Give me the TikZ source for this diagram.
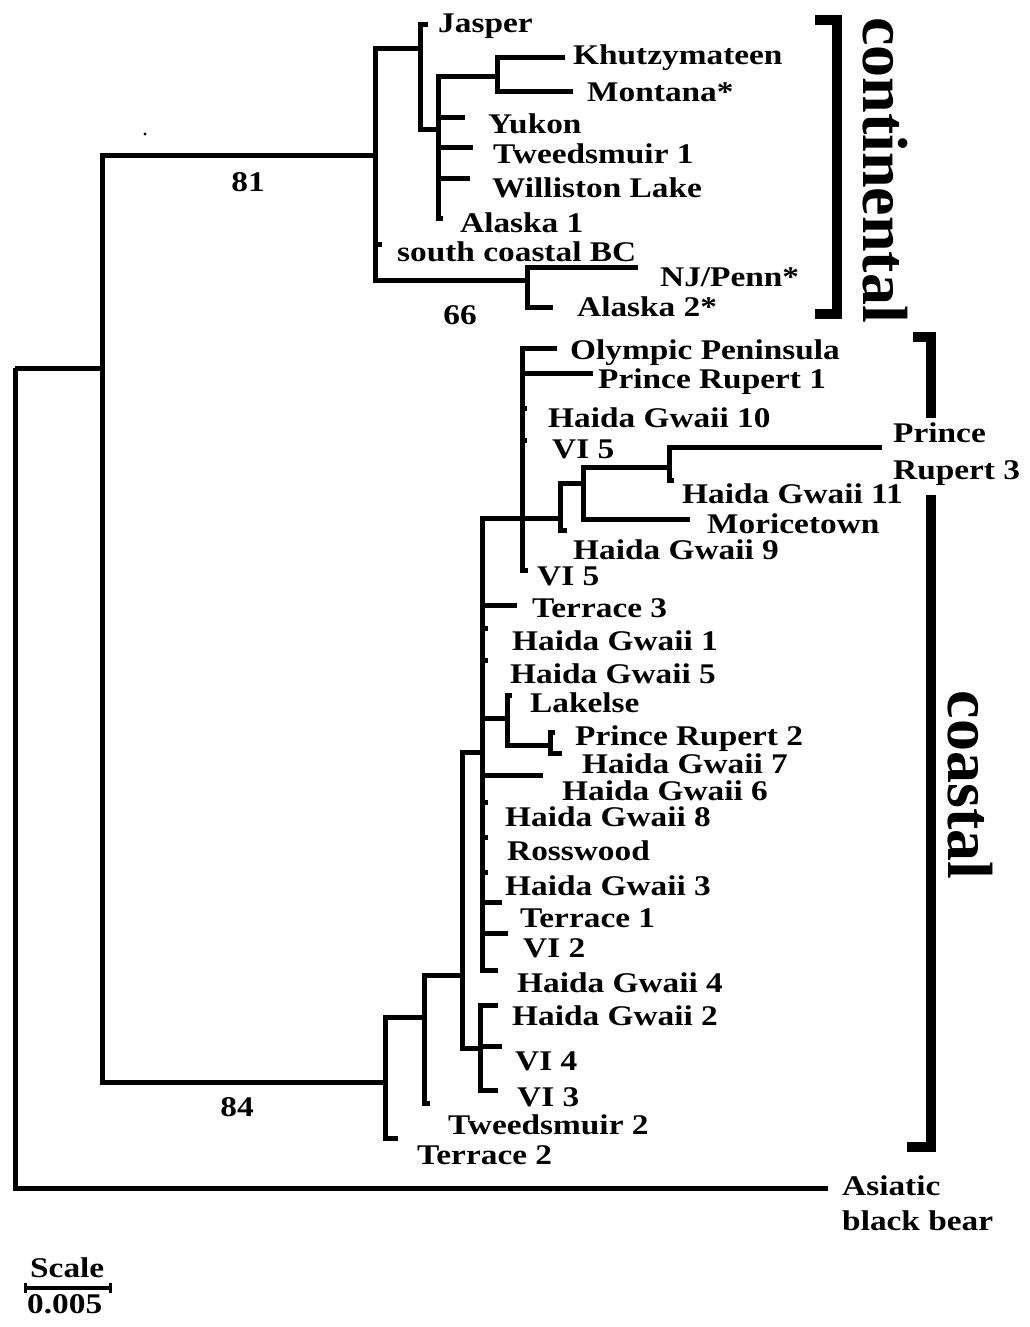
\documentclass[tikz,border=0pt]{standalone}
\usepackage{fontspec}
\setmainfont{Liberation Serif}
\newfontfamily\lblfont[FakeStretch=1.17]{Liberation Serif}
\newfontfamily\grpfont{Liberation Serif}
\begin{document}
\begin{tikzpicture}[x=1pt,y=-1pt,
  br/.style={line width=5pt, line join=miter},
  bracket/.style={line width=10pt, line join=miter},
  lbl/.style={font=\lblfont\bfseries\fontsize{28.5}{31}\selectfont, anchor=base west, inner sep=0pt},
  num/.style={font=\lblfont\bfseries\fontsize{28.5}{31}\selectfont, anchor=base, inner sep=0pt},
  grp/.style={font=\grpfont\bfseries\fontsize{64}{70}\selectfont, rotate=-90, inner sep=0pt}]
\useasboundingbox (0,0) rectangle (1030,1327);
\fill[white] (0,0) rectangle (1030,1327);

% ---------- internal nodes (x of node, y where it joins its parent)
\coordinate (R)  at (15,368);
\coordinate (A)  at (102,368);
\coordinate (C)  at (375,155);
\coordinate (J)  at (420,49);
\coordinate (Y)  at (438,130);
\coordinate (K)  at (497,77);
\coordinate (N)  at (527,280);
\coordinate (CO) at (385,1082);
\coordinate (T2) at (424,1017);
\coordinate (M)  at (462,975);
\coordinate (V)  at (480,1048);
\coordinate (B)  at (482,752);
\coordinate (O)  at (522,518);
\coordinate (H)  at (560,518);
\coordinate (Mo) at (583,483);
\coordinate (PR) at (669,467);
\coordinate (L)  at (507,718);
\coordinate (P)  at (550,745);

% ---------- tips
\coordinate (tAsia) at (828,1188);
\coordinate (tJas)  at (428,25);
\coordinate (tKhu)  at (565,58);
\coordinate (tMon)  at (573,92);
\coordinate (tYuk)  at (465,118);
\coordinate (tTwA)  at (473,147);
\coordinate (tWil)  at (470,178);
\coordinate (tAlA)  at (443,218);
\coordinate (tSC)   at (382,244);
\coordinate (tNJ)   at (638,267);
\coordinate (tAlB)  at (553,307);
\coordinate (tTerB) at (398,1138);
\coordinate (tTwB)  at (430,1103);
\coordinate (tHGb)  at (498,1005);
\coordinate (tVId)  at (502,1046);
\coordinate (tVIc)  at (498,1090);
\coordinate (tTerC) at (517,605);
\coordinate (tHGa)  at (488,628);
\coordinate (tHGe)  at (488,660);
\coordinate (tHGf)  at (543,775);
\coordinate (tHGh)  at (488,802);
\coordinate (tRos)  at (488,837);
\coordinate (tHGc)  at (488,872);
\coordinate (tTerA) at (502,902);
\coordinate (tVIb)  at (508,933);
\coordinate (tHGd)  at (498,970);
\coordinate (tOly)  at (557,348);
\coordinate (tPRa)  at (593,373);
\coordinate (tHGj)  at (527,408);
\coordinate (tVIe)  at (527,440);
\coordinate (tVIf)  at (528,570);
\coordinate (tHGi)  at (567,530);
\coordinate (tMor)  at (690,519);
\coordinate (tPRc)  at (882,447);
\coordinate (tHGk)  at (674,480);
\coordinate (tLak)  at (512,695);
\coordinate (tPRb)  at (555,732);
\coordinate (tHGg)  at (562,753);

% ---------- branches
\foreach \p/\c in {R/A, R/tAsia, A/C, A/CO,
  C/J, C/tSC, C/N, J/tJas, J/Y, Y/K, Y/tYuk, Y/tTwA, Y/tWil, Y/tAlA,
  K/tKhu, K/tMon, N/tNJ, N/tAlB,
  CO/T2, CO/tTerB, T2/M, T2/tTwB, M/B, M/V, V/tHGb, V/tVId, V/tVIc,
  B/O, B/tTerC, B/tHGa, B/tHGe, B/L, B/tHGf, B/tHGh, B/tRos, B/tHGc, B/tTerA, B/tVIb, B/tHGd,
  O/tOly, O/tPRa, O/tHGj, O/tVIe, O/H, O/tVIf,
  H/Mo, H/tHGi, Mo/PR, Mo/tMor, PR/tPRc, PR/tHGk,
  L/tLak, L/P, P/tPRb, P/tHGg}
  \draw[br] (\p) |- (\c);

% ---------- labels
\node[lbl] (lJas) at (438,33) {Jasper};
\node[lbl] (lKhu) at (573,65) {Khutzymateen};
\node[lbl] (lMon) at (587,102) {Montana*};
\node[lbl] (lYuk) at (488,133) {Yukon};
\node[lbl] (lTwA) at (493,163) {Tweedsmuir 1};
\node[lbl] (lWil) at (492,197) {Williston Lake};
\node[lbl] (lAlA) at (460,232) {Alaska 1};
\node[lbl] (lSC)  at (397,261) {south coastal BC};
\node[lbl] (lNJ)  at (660,286) {NJ/Penn*};
\node[lbl] (lAlB) at (577,316) {Alaska 2*};
\node[num] (n81)  at (248,191) {81};
\node[num] (n66)  at (460,324) {66};
\node[num] (n84)  at (237,1116) {84};

\node[lbl] (lOly) at (570,359) {Olympic Peninsula};
\node[lbl] (lPRa) at (598,388) {Prince Rupert 1};
\node[lbl] (lHGj) at (548,427) {Haida Gwaii 10};
\node[lbl] (lVIe) at (552,458) {VI 5};
\node[lbl] (lPRc) at (893,442) {Prince};
\node[lbl] (lPRd) at (893,479) {Rupert 3};
\node[lbl] (lHGk) at (682,503) {Haida Gwaii 11};
\node[lbl] (lMor) at (707,533) {Moricetown};
\node[lbl] (lHGi) at (573,559) {Haida Gwaii 9};
\node[lbl] (lVIf) at (537,585) {VI 5};
\node[lbl] (lTerC) at (532,617) {Terrace 3};
\node[lbl] (lHGa) at (512,650) {Haida Gwaii 1};
\node[lbl] (lHGe) at (510,683) {Haida Gwaii 5};
\node[lbl] (lLak) at (530,712) {Lakelse};
\node[lbl] (lPRb) at (575,745) {Prince Rupert 2};
\node[lbl] (lHGg) at (582,773) {Haida Gwaii 7};
\node[lbl] (lHGf) at (562,800) {Haida Gwaii 6};
\node[lbl] (lHGh) at (505,826) {Haida Gwaii 8};
\node[lbl] (lRos) at (507,860) {Rosswood};
\node[lbl] (lHGc) at (505,895) {Haida Gwaii 3};
\node[lbl] (lTerA) at (520,927) {Terrace 1};
\node[lbl] (lVIb) at (523,957) {VI 2};
\node[lbl] (lHGd) at (517,992) {Haida Gwaii 4};
\node[lbl] (lHGb) at (512,1025) {Haida Gwaii 2};
\node[lbl] (lVId) at (515,1070) {VI 4};
\node[lbl] (lVIc) at (517,1106) {VI 3};
\node[lbl] (lTwB) at (448,1134) {Tweedsmuir 2};
\node[lbl] (lTerB) at (417,1164) {Terrace 2};
\node[lbl] (lAsA) at (842,1195) {Asiatic};
\node[lbl] (lAsB) at (842,1230) {black bear};

% ---------- group brackets
\draw[bracket] (815,20) -- (837,20) -- (837,314) -- (815,314);
\node[grp] (gCont) at (885,170) {continental};
\draw[bracket] (913,337) -- (931,337) -- (931,418);
\draw[bracket] (931,495) -- (931,1147) -- (907,1147);
\node[grp] (gCoast) at (970,785) {coastal};

% ---------- scale bar
\node[lbl] (lScale) at (30,1277) {Scale};
\coordinate (sbL) at (25,1288);
\coordinate (sbR) at (110,1288);
\draw[line width=4pt] (sbL) -- (sbR);
\draw[line width=3pt] ([yshift=-5pt]sbL) -- ([yshift=5pt]sbL);
\draw[line width=3pt] ([yshift=-5pt]sbR) -- ([yshift=5pt]sbR);
\node[lbl] (lScaleVal) at (27,1313) {0.005};

% ---------- speck
\fill (145,134) circle (1.6pt);
\end{tikzpicture}
\end{document}
